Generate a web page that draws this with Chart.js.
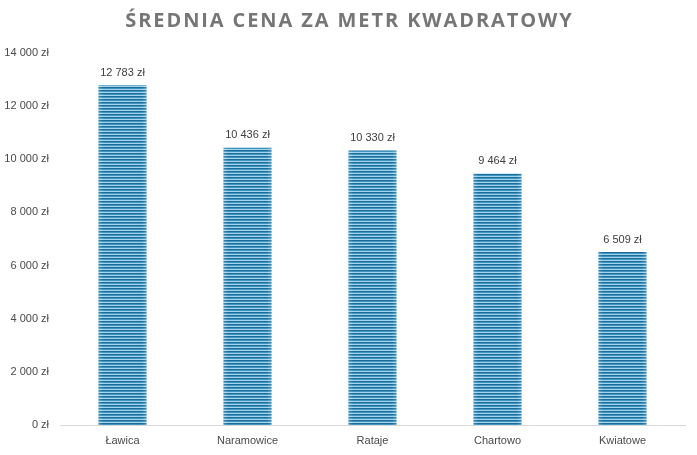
<!DOCTYPE html>
<html>
<head>
<meta charset="utf-8">
<script src="https://cdn.jsdelivr.net/npm/chart.js@4.4.1/dist/chart.umd.min.js"></script>
<style>
html,body{margin:0;padding:0;background:#fff;}
#wrap{width:697px;height:455px;position:relative;}
</style>
</head>
<body>
<div id="wrap"><canvas id="c" width="697" height="455"></canvas></div>
<script>
const titleText = "ŚREDNIA CENA ZA METR KWADRATOWY";
const categories = ["Ławica", "Naramowice", "Rataje", "Chartowo", "Kwiatowe"];
const prices = [12783, 10436, 10330, 9464, 6509];
const yTicks = [0, 2000, 4000, 6000, 8000, 10000, 12000, 14000];

function fmt(v){
  return String(Math.round(v)).replace(/\B(?=(\d{3})+(?!\d))/g, "\u00a0") + "\u00a0zł";
}

function stripePattern(){
  const p = document.createElement('canvas');
  p.width = 4; p.height = 3;
  const g = p.getContext('2d');
  g.fillStyle = '#1e6d98'; g.fillRect(0,0,4,1);
  g.fillStyle = '#3f95c2'; g.fillRect(0,1,4,1);
  g.fillStyle = '#a3d4eb'; g.fillRect(0,2,4,1);
  return document.getElementById('c').getContext('2d').createPattern(p,'repeat');
}

const titlePlugin = {
  id: 'spacedTitle',
  afterDraw(chart, args, opts){
    const ctx = chart.ctx;
    ctx.save();
    ctx.font = "bold 20px 'Open Sans', 'DejaVu Sans', sans-serif";
    ctx.fillStyle = '#767676';
    ctx.textAlign = 'center';
    ctx.textBaseline = 'middle';
    if ('letterSpacing' in ctx) ctx.letterSpacing = '1.9px';
    ctx.fillText(opts.text, chart.width/2 + 1, 21);
    ctx.restore();
  }
};

const valueLabels = {
  id: 'valueLabels',
  afterDatasetsDraw(chart){
    const ctx = chart.ctx;
    const meta = chart.getDatasetMeta(0);
    ctx.save();
    ctx.font = "11px 'Liberation Sans', Arial, sans-serif";
    ctx.textAlign = 'center';
    ctx.textBaseline = 'bottom';
    meta.data.forEach((bar, i) => {
      const w = bar.width, x0 = bar.x - w/2;
      const gr = ctx.createLinearGradient(x0, 0, x0 + w, 0);
      gr.addColorStop(0, 'rgba(255,255,255,0.2)');
      gr.addColorStop(0.1, 'rgba(255,255,255,0)');
      gr.addColorStop(0.9, 'rgba(255,255,255,0)');
      gr.addColorStop(1, 'rgba(255,255,255,0.2)');
      ctx.fillStyle = gr;
      ctx.fillRect(x0, bar.y, w, bar.base - bar.y);
      ctx.fillStyle = '#404040';
      ctx.fillText(fmt(chart.data.datasets[0].data[i]), bar.x, bar.y - 7);
    });
    ctx.restore();
  }
};

new Chart(document.getElementById('c'), {
  type: 'bar',
  data: {
    labels: categories,
    datasets: [{
      data: prices,
      backgroundColor: stripePattern(),
      borderWidth: 0,
      categoryPercentage: 1,
      barPercentage: 0.385
    }]
  },
  options: {
    responsive: false,
    animation: false,
    layout: { padding: { top: 53, right: 12, bottom: 0, left: 0 } },
    plugins: {
      legend: { display: false },
      tooltip: { enabled: false },
      spacedTitle: { text: titleText }
    },
    scales: {
      x: {
        afterFit(scale){ scale.height = 30; },
        grid: { display: false, drawTicks: false },
        border: { display: true, color: '#d9d9d9', width: 1 },
        ticks: { color: '#4a4a4a', padding: 9, font: { size: 11, family: "'Liberation Sans', Arial, sans-serif" } }
      },
      y: {
        min: 0, max: 14000,
        afterBuildTicks(scale){ scale.ticks = yTicks.map(v => ({ value: v })); },
        afterFit(scale){ scale.width = 60; },
        grid: { display: false, drawTicks: false },
        border: { display: false },
        ticks: { color: '#4a4a4a', padding: 11, callback: v => fmt(v), font: { size: 11, family: "'Liberation Sans', Arial, sans-serif" } }
      }
    }
  },
  plugins: [titlePlugin, valueLabels]
});
</script>
</body>
</html>
